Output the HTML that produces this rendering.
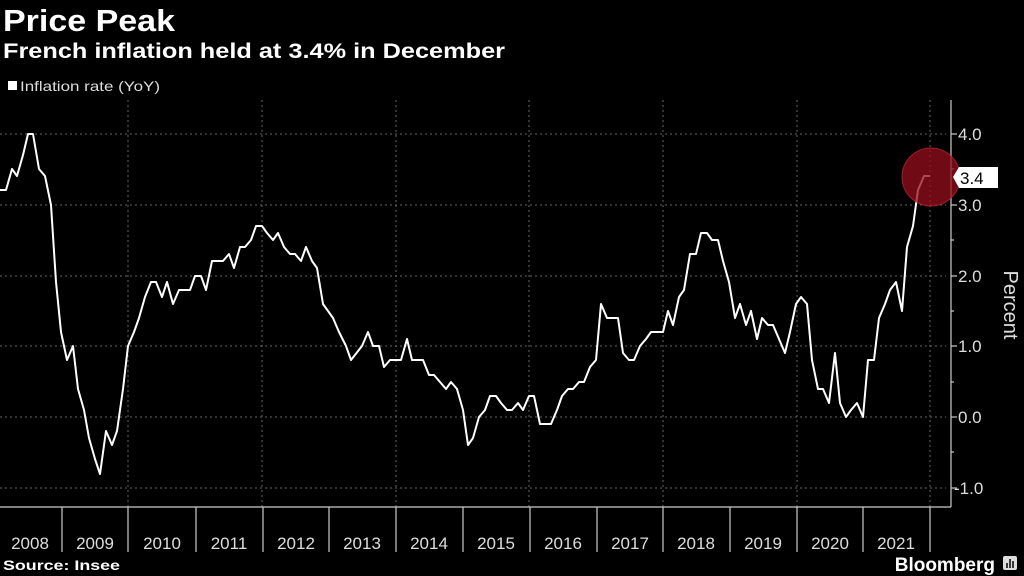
<!DOCTYPE html>
<html><head><meta charset="utf-8"><style>
body{margin:0;background:#000;width:1024px;height:576px;overflow:hidden;font-family:"Liberation Sans",sans-serif;color:#fff}
</style></head><body>
<svg width="1024" height="576" xmlns="http://www.w3.org/2000/svg" style="position:absolute;left:0;top:0">
<rect width="1024" height="576" fill="#000"/>
<text x="3" y="31" font-size="31" font-weight="bold" fill="#fff" font-family="Liberation Sans" textLength="172" lengthAdjust="spacingAndGlyphs">Price Peak</text>
<text x="3" y="58" font-size="21" font-weight="bold" fill="#fff" font-family="Liberation Sans" textLength="502" lengthAdjust="spacingAndGlyphs">French inflation held at 3.4% in December</text>
<rect x="8" y="81" width="9" height="9" fill="#fff"/>
<text x="20" y="91" font-size="14" fill="#ddd" font-family="Liberation Sans" textLength="140" lengthAdjust="spacingAndGlyphs">Inflation rate (YoY)</text>
<g stroke="#666" stroke-width="1" stroke-dasharray="2,3">
<line x1="0" x2="946" y1="134" y2="134"/><line x1="0" x2="946" y1="205" y2="205"/><line x1="0" x2="946" y1="276" y2="276"/><line x1="0" x2="946" y1="346" y2="346"/><line x1="0" x2="946" y1="417" y2="417"/><line x1="0" x2="946" y1="488" y2="488"/>
<line x1="128" x2="128" y1="100" y2="507"/><line x1="262" x2="262" y1="100" y2="507"/><line x1="396" x2="396" y1="100" y2="507"/><line x1="529" x2="529" y1="100" y2="507"/><line x1="663" x2="663" y1="100" y2="507"/><line x1="797" x2="797" y1="100" y2="507"/><line x1="930" x2="930" y1="100" y2="507"/>
</g>
<g stroke="#ccc" stroke-width="1.2">
<line x1="951" x2="951" y1="100" y2="507"/><line x1="0" x2="951" y1="507" y2="507"/>
<line x1="951" x2="957" y1="134" y2="134"/><line x1="951" x2="957" y1="205" y2="205"/><line x1="951" x2="957" y1="276" y2="276"/><line x1="951" x2="957" y1="346" y2="346"/><line x1="951" x2="957" y1="417" y2="417"/><line x1="951" x2="957" y1="488" y2="488"/>
<line x1="951" x2="954" y1="169" y2="169"/><line x1="951" x2="954" y1="240" y2="240"/><line x1="951" x2="954" y1="311" y2="311"/><line x1="951" x2="954" y1="382" y2="382"/><line x1="951" x2="954" y1="452" y2="452"/>
<line x1="62" x2="62" y1="507" y2="552"/><line x1="128" x2="128" y1="507" y2="552"/><line x1="196" x2="196" y1="507" y2="552"/><line x1="263" x2="263" y1="507" y2="552"/><line x1="329" x2="329" y1="507" y2="552"/><line x1="396" x2="396" y1="507" y2="552"/><line x1="463" x2="463" y1="507" y2="552"/><line x1="530" x2="530" y1="507" y2="552"/><line x1="597" x2="597" y1="507" y2="552"/><line x1="663" x2="663" y1="507" y2="552"/><line x1="730" x2="730" y1="507" y2="552"/><line x1="797" x2="797" y1="507" y2="552"/><line x1="863" x2="863" y1="507" y2="552"/><line x1="930" x2="930" y1="507" y2="552"/>
</g>
<g font-size="17" fill="#ddd" font-family="Liberation Sans" text-anchor="middle">
<text x="30" y="549">2008</text><text x="95" y="549">2009</text><text x="162" y="549">2010</text><text x="229" y="549">2011</text><text x="296" y="549">2012</text><text x="362" y="549">2013</text><text x="429" y="549">2014</text><text x="496" y="549">2015</text><text x="563" y="549">2016</text><text x="630" y="549">2017</text><text x="696" y="549">2018</text><text x="763" y="549">2019</text><text x="830" y="549">2020</text><text x="896" y="549">2021</text>
</g>
<g font-size="17" fill="#ddd" font-family="Liberation Sans">
<text x="958" y="140">4.0</text><text x="958" y="211">3.0</text><text x="958" y="282">2.0</text><text x="958" y="352">1.0</text><text x="958" y="423">0.0</text><text x="954" y="494">-1.0</text>
</g>
<text transform="translate(1004,305) rotate(90)" font-size="20" fill="#ddd" text-anchor="middle" font-family="Liberation Sans">Percent</text>
<polyline fill="none" stroke="#fff" stroke-width="2" stroke-linejoin="round" points="
0,190 6,190 12,169 17,176 23,155 28,134 33,134 39,169 45,176 51,205 56,282 61,332 67,360 73,346 78,389 84,410 89,438 95,459 100,474 106,431 112,445 117,431 123,389 128,346
134,332 139,318 145,297 151,282 156,282 162,297 167,282 173,304 179,290 184,290 190,290 195,276 201,276 206,290 212,261 217,261 223,261 229,254 234,268 240,247 245,247 251,240 256,226 262,226 267,233 273,240 278,233 284,247 290,254 295,254 301,261 306,247 312,261 317,268 323,304 328,311
333,318 339,332 346,346 351,360 362,346 368,332 373,346 379,346 384,367 390,360 401,360 407,339 412,360 423,360 429,375 434,375 446,389 451,382 457,389 463,410 468,445 473,438 479,417 485,410 490,396 496,396 501,403 507,410 512,410 518,403 523,410 529,396 534,396 540,424 551,424 557,410 562,396 568,389 573,389 579,382 584,382 590,367 596,360 601,304 607,318 618,318 623,353 629,360 634,360 640,346 646,339 651,332 663,332
668,311 673,325 679,297 684,290 690,254 696,254 701,233 707,233 712,240 718,240 723,261 729,282 735,318 740,304 746,325 751,311 757,339 762,318 768,325 773,325 779,339 785,353 790,332 796,304 801,297 807,304 812,360 818,389 823,389 829,403 835,353 840,403 846,417 851,410 857,403 863,417 868,360 874,360 879,318 885,304 890,290 896,282 902,311 907,247 913,226 918,190 924,176 930,176"/>
<circle cx="931" cy="177" r="29" fill="rgba(150,15,30,0.75)" stroke="rgba(200,40,60,0.7)" stroke-width="1"/>
<polygon points="953,177 959,167 998,167 998,188 959,188" fill="#fff"/>
<text x="960" y="184" font-size="17" fill="#000" font-family="Liberation Sans">3.4</text>
<text x="3" y="570" font-size="14" font-weight="bold" fill="#fff" font-family="Liberation Sans" textLength="117" lengthAdjust="spacingAndGlyphs">Source: Insee</text>
<text x="995" y="571" font-size="19" font-weight="bold" fill="#fff" text-anchor="end" font-family="Liberation Sans">Bloomberg</text>
<rect x="1003" y="556" width="14" height="14" rx="2" fill="#ddd"/>
<g stroke="#000" stroke-width="1.5"><line x1="1007" x2="1007" y1="563" y2="568"/><line x1="1010" x2="1010" y1="559" y2="568"/><line x1="1013" x2="1013" y1="561" y2="568"/></g>
</svg>
</body></html>
